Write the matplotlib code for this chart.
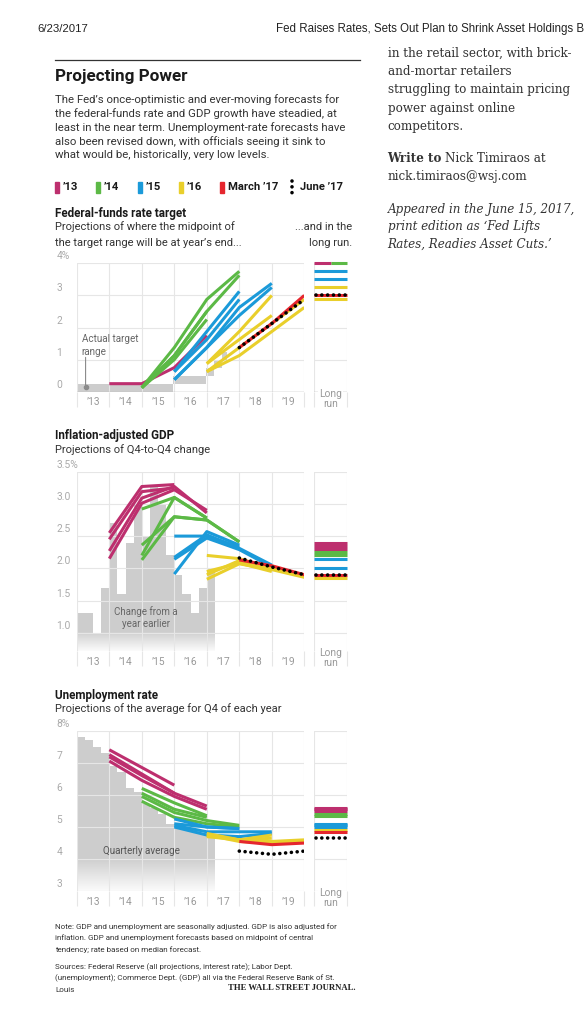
import numpy as np
import matplotlib
matplotlib.use('Agg')
import matplotlib.pyplot as plt
from matplotlib.patches import Rectangle
from matplotlib.lines import Line2D

# ---------------- data ----------------
# projections: the value for year Y is drawn at the end of that year (x = Y + 1)
year_labels = ['\u201913', '\u201914', '\u201915', '\u201916', '\u201917', '\u201918', '\u201919']

# federal-funds rate, median projections (%)
ff_13 = [[0.25, 0.25, 0.75, 1.75]]
ff_14 = [[0.125, 1.0, 2.25], [0.125, 1.125, 2.5], [0.125, 1.375, 2.875, 3.75], [0.125, 1.125, 2.5, 3.625]]
ff_15 = [[0.625, 1.875, 3.125], [0.625, 1.625, 2.875], [0.375, 1.375, 2.625, 3.375], [0.375, 1.375, 2.375, 3.25]]
ff_16 = [[0.875, 1.875, 3.0], [0.875, 1.625, 2.375], [0.625, 1.125, 1.875, 2.625], [0.625, 1.375, 2.125, 2.875]]
ff_mar17 = [1.375, 2.125, 3.0]
ff_jun17 = [1.375, 2.125, 2.875]
ff_lr_13 = [4.0]
ff_lr_14 = [4.0]
ff_lr_15 = [3.75, 3.5]
ff_lr_16 = [3.25, 2.875]
ff_lr_mar17 = [3.0]
ff_lr_jun17 = [3.0]
# actual target range
rate_start = [2013.0, 2015.96, 2016.96, 2017.21, 2017.46]
rate_end = [2015.96, 2016.96, 2017.21, 2017.46, 2017.62]
rate_low = [0.0, 0.25, 0.5, 0.75, 1.0]
rate_high = [0.25, 0.5, 0.75, 1.0, 1.25]

# real GDP, Q4-to-Q4 change (%)
gdp_actual = [1.3, 1.3, 1.0, 1.7, 2.7, 1.6, 2.4, 3.0, 2.5, 3.3, 3.0, 2.2, 1.9, 1.6, 1.3, 1.7, 2.0]
gdp_13 = [[2.55, 3.27, 3.3], [2.45, 3.19, 3.25], [2.15, 3.01, 3.22, 2.9], [2.27, 3.09, 3.27, 2.86]]
gdp_14 = [[2.92, 3.1, 2.78], [2.2, 3.1, 2.78], [2.13, 2.8, 2.75, 2.41], [2.36, 2.8, 2.75, 2.41]]
gdp_15 = [[2.5, 2.5, 2.33], [1.91, 2.57, 2.36], [2.17, 2.52, 2.31, 2.05], [2.14, 2.47, 2.29, 2.02]]
gdp_16 = [[2.2, 2.15, 2.0], [1.95, 2.08, 1.95], [1.83, 2.07, 1.98, 1.86], [1.9, 2.12, 2.0, 1.9]]
gdp_mar17 = [2.13, 2.04, 1.9]
gdp_jun17 = [2.16, 2.02, 1.9]
gdp_lr_13 = [2.4, 2.35, 2.3]
gdp_lr_14 = [2.25, 2.2]
gdp_lr_15 = [2.15, 2.0]
gdp_lr_16 = [1.85]
gdp_lr_mar17 = [1.9]
gdp_lr_jun17 = [1.9]

# unemployment rate, Q4 average (%)
ur_actual = [7.8, 7.7, 7.5, 7.3, 6.9, 6.7, 6.2, 6.1, 5.7, 5.6, 5.4, 5.1, 5.0, 4.9, 4.9, 4.8, 4.7]
ur_13 = [[7.4, 6.85, 6.3], [7.25, 6.65, 6.05], [7.18, 6.6, 6.05, 5.65], [7.05, 6.45, 5.95, 5.55]]
ur_14 = [[6.2, 5.75, 5.35], [6.05, 5.55, 5.3], [5.95, 5.45, 5.2, 5.05], [5.8, 5.3, 5.1, 5.0]]
ur_15 = [[5.25, 5.0, 4.95], [5.1, 5.0, 4.95], [5.05, 4.85, 4.85, 4.85], [5.0, 4.75, 4.7, 4.8]]
ur_16 = [[4.7, 4.6, 4.75], [4.75, 4.6, 4.65], [4.8, 4.6, 4.55, 4.6], [4.75, 4.55, 4.5, 4.55]]
ur_mar17 = [4.55, 4.45, 4.5]
ur_jun17 = [4.25, 4.15, 4.25]
ur_lr_13 = [5.6, 5.55, 5.5]
ur_lr_14 = [5.4, 5.35]
ur_lr_15 = [5.1, 5.05, 5.0]
ur_lr_16 = [4.92]
ur_lr_mar17 = [4.85]
ur_lr_jun17 = [4.65]

# ---------------- style ----------------
MAG, GRN, BLU, YEL, RED = '#bd2f6e', '#5cb946', '#1b9ad9', '#e9cf2b', '#e5262e'
GRAY, GRID = '#cdcdcd', '#e6e6e6'
LW = 2.2
DOTS = dict(color='black', lw=2.6, linestyle=(0, (0.01, 1.6)), dash_capstyle='round', zorder=6)
TICK_FS = 7.4

plt.rcParams['font.family'] = ['Roboto', 'DejaVu Sans']
W, H = 586, 1024
fig = plt.figure(figsize=(W / 100, H / 100), dpi=100)


def T(x, y, s, **kw):
    kw.setdefault('va', 'center')
    kw.setdefault('color', '#222222')
    return fig.text(x / W, 1 - y / H, s, **kw)


def axes_px(left, top, right, bottom):
    return fig.add_axes([left / W, 1 - bottom / H, (right - left) / W, (bottom - top) / H])


def setup(ax, ylim, yt, lr=False, ylab=None):
    ax.set_ylim(*ylim)
    ax.set_yticks(yt, labels=[''] * len(yt))
    for s in ax.spines.values():
        s.set_visible(False)
    ax.set_axisbelow(False)
    ax.grid(True, which='major', color=GRID, lw=0.8)
    ax.tick_params(axis='y', length=0)
    ax.tick_params(axis='x', which='major', length=11, width=0.8, color=GRID, direction='out')
    if lr:
        ax.set_xlim(0, 1)
        ax.set_xticks([0, 1], labels=['', ''])
        ax.annotate('Long', xy=(0.5, 0), xycoords='axes fraction', xytext=(0, -1.5),
                    textcoords='offset points', ha='center', va='center', fontsize=TICK_FS,
                    color='#999999', bbox=dict(fc='white', ec='none', pad=0.6))
        ax.annotate('run', xy=(0.5, 0), xycoords='axes fraction', xytext=(0, -8.5),
                    textcoords='offset points', ha='center', va='center', fontsize=TICK_FS,
                    color='#999999')
    else:
        ax.set_xlim(2013, 2020)
        ax.set_xticks(np.arange(2013, 2021), labels=[''] * 8)
        ax.set_xticks(np.arange(2013, 2020) + 0.5, labels=year_labels, minor=True)
        ax.tick_params(axis='x', which='minor', length=0, pad=4.0, labelsize=TICK_FS,
                       labelcolor='#999999')
        for v, s in zip(yt, ylab):
            ax.annotate(s, xy=(0, v), xycoords=('axes fraction', 'data'), xytext=(-14.6, 5),
                        textcoords='offset points', ha='left', va='center', fontsize=TICK_FS,
                        color='#aaaaaa')


def proj(ax, series, first_year, color):
    for vals in series:
        xs = first_year + 1 + np.arange(len(vals))
        ax.plot(xs, vals, color=color, lw=LW, solid_capstyle='butt', zorder=3)


def projections(ax, s13, s14, s15, s16, mar17, jun17):
    proj(ax, s13, 2013, MAG)
    proj(ax, s14, 2014, GRN)
    proj(ax, s15, 2015, BLU)
    proj(ax, s16, 2016, YEL)
    ax.plot(2018 + np.arange(len(mar17)), mar17, color=RED, lw=LW, solid_capstyle='butt', zorder=4)
    ax.plot(2018 + np.arange(len(jun17)), jun17, **DOTS)


def long_run(ax, l13, l14, l15, l16, lmar, ljun):
    groups = {}
    for vals, c in [(l13, MAG), (l14, GRN), (l15, BLU), (l16, YEL), (lmar, RED)]:
        for v in vals:
            groups.setdefault(v, []).append(c)
    for v, cols in groups.items():
        n = len(cols)
        for i, c in enumerate(cols):
            ax.hlines(v, i / n, (i + 1) / n, color=c, lw=LW, zorder=3, clip_on=False)
    for v in ljun:
        ax.plot([0.05, 1.0], [v, v], clip_on=False, **DOTS)


def actual_bars(ax, vals, fade_top, fade_bot):
    x0 = 2013 + 0.25 * np.arange(len(vals))
    ax.bar(x0, vals, width=0.25, align='edge', color=GRAY, lw=0, zorder=1)
    grad = np.ones((100, 1, 4))
    grad[:, 0, 3] = np.linspace(0, 0.93, 100)
    ax.imshow(grad, extent=[2013, x0[-1] + 0.25, fade_bot, fade_top], origin='upper',
              aspect='auto', zorder=1.5, interpolation='bilinear')
    ax.set_xlim(2013, 2020)


# ---------------- panel 1: fed funds ----------------
ax1 = axes_px(76.8, 263.3, 304.3, 391.7)
ax1l = axes_px(314.3, 263.3, 346.7, 391.7)
setup(ax1, (0, 4), [0, 1, 2, 3, 4], ylab=['0', '1', '2', '3', '4%'])
setup(ax1l, (0, 4), [0, 1, 2, 3, 4], lr=True)
for a in (ax1, ax1l):
    a.axhline(0, color='#b5b5b5', lw=1.0, zorder=2.6)
ax1.bar(rate_start, np.subtract(rate_high, rate_low), width=np.subtract(rate_end, rate_start),
        bottom=rate_low, align='edge', color=GRAY, lw=0, zorder=1)
projections(ax1, ff_13, ff_14, ff_15, ff_16, ff_mar17, ff_jun17)
long_run(ax1l, ff_lr_13, ff_lr_14, ff_lr_15, ff_lr_16, ff_lr_mar17, ff_lr_jun17)
ax1.annotate('', xy=(2013.27, 0.15), xytext=(2013.27, 1.07),
             arrowprops=dict(arrowstyle='-', color='#8a8a8a', lw=0.8, shrinkA=0, shrinkB=0), zorder=5)
ax1.plot([2013.27], [0.15], 'o', ms=3, color='#8a8a8a', zorder=5)
ax1.text(2013.15, 1.44, 'Actual target\nrange', fontsize=7.1, color='#666666', ha='left',
         va='center', linespacing=1.3, zorder=5)

# ---------------- panel 2: GDP ----------------
ax2 = axes_px(76.8, 471.7, 304.3, 651)
ax2l = axes_px(314.3, 471.7, 346.7, 651)
setup(ax2, (0.716, 3.5), [1.0, 1.5, 2.0, 2.5, 3.0, 3.5], ylab=['1.0', '1.5', '2.0', '2.5', '3.0', '3.5%'])
setup(ax2l, (0.716, 3.5), [1.0, 1.5, 2.0, 2.5, 3.0, 3.5], lr=True)
actual_bars(ax2, gdp_actual, 1.02, 0.716)
ax2.set_ylim(0.716, 3.5)
projections(ax2, gdp_13, gdp_14, gdp_15, gdp_16, gdp_mar17, gdp_jun17)
long_run(ax2l, gdp_lr_13, gdp_lr_14, gdp_lr_15, gdp_lr_16, gdp_lr_mar17, gdp_lr_jun17)
ax2.text(2015.13, 1.24, 'Change from a\nyear earlier', fontsize=7.0, color='#666666', ha='center',
         va='center', linespacing=1.25, zorder=5)

# ---------------- panel 3: unemployment ----------------
ax3 = axes_px(76.8, 730.5, 304.3, 891.3)
ax3l = axes_px(314.3, 730.5, 346.7, 891.3)
setup(ax3, (3, 8), [3, 4, 5, 6, 7, 8], ylab=['3', '4', '5', '6', '7', '8%'])
setup(ax3l, (3, 8), [3, 4, 5, 6, 7, 8], lr=True)
actual_bars(ax3, ur_actual, 4.02, 3.0)
ax3.set_ylim(3, 8)
projections(ax3, ur_13, ur_14, ur_15, ur_16, ur_mar17, ur_jun17)
long_run(ax3l, ur_lr_13, ur_lr_14, ur_lr_15, ur_lr_16, ur_lr_mar17, ur_lr_jun17)
ax3.text(2014.98, 4.24, 'Quarterly average', fontsize=7.1, color='#555555', ha='center',
         va='center', zorder=5)

# ---------------- page text ----------------
T(37, 29, '6/23/2017', fontsize=8.2, family='Liberation Sans')
T(276, 29, 'Fed Raises Rates, Sets Out Plan to Shrink Asset Holdings B', fontsize=8.3,
  family='Liberation Sans')
fig.add_artist(Line2D([55 / W, 360 / W], [1 - 60 / H] * 2, color='#333333', lw=0.9))
T(55, 76.5, 'Projecting Power', fontsize=12.3, weight='bold', color='#1a1a1a')
body = ['The Fed\u2019s once-optimistic and ever-moving forecasts for',
        'the federal-funds rate and GDP growth have steadied, at',
        'least in the near term. Unemployment-rate forecasts have',
        'also been revised down, with officials seeing it sink to',
        'what would be, historically, very low levels.']
for i, line in enumerate(body):
    T(55, 100 + 13.75 * i, line, fontsize=8.2, color='#333333')

# legend
leg = [(55.5, MAG, '\u201913'), (96, GRN, '\u201914'), (138, BLU, '\u201915'),
       (179, YEL, '\u201916'), (220, RED, 'March \u201917')]
for x, c, s in leg:
    fig.add_artist(Rectangle((x / W, 1 - 192.5 / H), 3.6 / W, 11 / H, color=c,
                             transform=fig.transFigure))
    T(x + 7.5, 187, s, fontsize=8.1, weight='bold', color='#1a1a1a')
fig.add_artist(Line2D([292 / W] * 2, [1 - 180.5 / H, 1 - 193 / H], transform=fig.transFigure,
                      **{k: v for k, v in DOTS.items() if k != 'zorder'}))
T(300, 187, 'June \u201917', fontsize=8.1, weight='bold', color='#1a1a1a')

# panel headings
HEAD = dict(fontsize=8.4, weight='bold', color='#1a1a1a')
SUB = dict(fontsize=8.0, color='#333333')
T(55.5, 214, 'Federal-funds rate target', **HEAD)
T(55.5, 227, 'Projections of where the midpoint of', **SUB)
T(55.5, 243, 'the target range will be at year\u2019s end...', **SUB)
T(352, 227, '...and in the', ha='right', **SUB)
T(352, 243, 'long run.', ha='right', **SUB)
T(55.5, 435, 'Inflation-adjusted GDP', **HEAD)
T(55.5, 449.5, 'Projections of Q4-to-Q4 change', **SUB)
T(55.5, 695, 'Unemployment rate', **HEAD)
T(55.5, 708.5, 'Projections of the average for Q4 of each year', **SUB)

notes = ['Note: GDP and unemployment are seasonally adjusted. GDP is also adjusted for',
         'inflation. GDP and unemployment forecasts based on midpoint of central',
         'tendency; rate based on median forecast.']
for i, line in enumerate(notes):
    T(55, 926.5 + 11.3 * i, line, fontsize=5.75, color='#333333')
sources = ['Sources: Federal Reserve (all projections, interest rate); Labor Dept.',
           '(unemployment); Commerce Dept. (GDP) all via the Federal Reserve Bank of St.',
           'Louis']
for i, line in enumerate(sources):
    T(55, 967 + 11.3 * i, line, fontsize=5.75, color='#333333')
T(356, 988, 'THE WALL STREET JOURNAL.', fontsize=6.2, family='Liberation Serif',
  weight='bold', ha='right', color='#222222')

# right column
serif = dict(family='DejaVu Serif', fontsize=8.55, color='#333333')
col = ['in the retail sector, with brick-', 'and-mortar retailers',
       'struggling to maintain pricing', 'power against online', 'competitors.']
for i, line in enumerate(col):
    T(387.5, 53.5 + 18.2 * i, line, **serif)
wt = T(387.5, 158.5, 'Write to', weight='bold', **serif)
fig.canvas.draw()
bb = wt.get_window_extent(fig.canvas.get_renderer())
T(bb.x1 + 3.2, 158.5, 'Nick Timiraos at', **serif)
T(387.5, 176.7, 'nick.timiraos@wsj.com', **serif)
ital = ['Appeared in the June 15, 2017,', 'print edition as \u2018Fed Lifts',
        'Rates, Readies Asset Cuts.\u2019']
for i, line in enumerate(ital):
    T(387.5, 209.5 + 17.3 * i, line, style='italic', **serif)

fig.savefig('out.png', dpi=100)
